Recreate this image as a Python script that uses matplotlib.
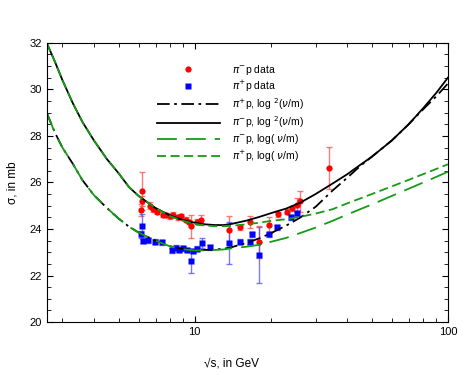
import matplotlib.pyplot as plt
from matplotlib.ticker import LogLocator, NullFormatter, FixedLocator, FixedFormatter, MultipleLocator

plt.rcParams['font.family'] = ['Liberation Sans', 'DejaVu Sans']
plt.rcParams['mathtext.fontset'] = 'dejavusans'

# pi- p data: sqrt(s) [GeV], sigma [mb], error
pim_s = [6.19, 6.2, 6.15, 6.68, 6.84, 7.1, 7.49, 7.73, 7.97, 8.2, 8.59, 8.86,
         9.2, 9.5, 9.7, 10.25, 10.6, 13.7, 15.07, 16.5, 18.0, 19.6, 21.3,
         23.1, 24.3, 25.3, 26.0, 34.0]
pim_sig = [25.63, 25.2, 24.81, 25.0, 24.84, 24.75, 24.62, 24.6, 24.55, 24.62,
           24.5, 24.55, 24.4, 24.3, 24.12, 24.31, 24.38, 23.95, 24.07, 24.29,
           23.45, 24.17, 24.63, 24.74, 24.89, 25.03, 25.2, 26.63]
pim_err = [0.8, 0.2, 0.25, 0.15, 0.1, 0.1, 0.1, 0.1, 0.1, 0.1, 0.1, 0.1,
           0.1, 0.1, 0.5, 0.1, 0.2, 0.6, 0.1, 0.25, 0.7, 0.35, 0.1,
           0.1, 0.1, 0.3, 0.45, 0.9]

# pi+ p data
pip_s = [6.19, 6.15, 6.22, 6.54, 6.94, 7.45, 8.16, 8.4, 8.7, 9.0, 9.3, 9.7,
         9.8, 10.2, 10.7, 11.5, 13.7, 15.07, 16.5, 16.8, 18.0, 19.6, 21.2,
         24.1, 25.3]
pip_sig = [24.15, 23.78, 23.48, 23.52, 23.45, 23.43, 23.08, 23.2, 23.1, 23.17,
           23.1, 22.62, 23.05, 23.15, 23.4, 23.21, 23.4, 23.46, 23.45, 23.77,
           22.9, 23.77, 24.07, 24.5, 24.67]
pip_err = [0.5, 0.15, 0.1, 0.1, 0.1, 0.1, 0.1, 0.1, 0.1, 0.1,
           0.1, 0.5, 0.1, 0.1, 0.2, 0.1, 0.9, 0.1, 0.1, 0.1,
           1.2, 0.1, 0.1, 0.1, 0.1]

# fitted curves
curve_s = [2.6, 2.8, 3.0, 3.3, 3.6, 4, 4.5, 5, 5.5, 6, 7, 8, 9, 10, 11, 12, 13,
           14, 16, 18, 20, 23, 26, 30, 35, 40, 45, 50, 60, 70, 80, 90, 100]
solid_log2 = [32.0, 31.2, 30.4, 29.4, 28.6, 27.8, 27.0, 26.4, 25.8, 25.42, 24.9,
              24.58, 24.38, 24.27, 24.2, 24.17, 24.17, 24.22, 24.36, 24.52, 24.68,
              24.88, 25.12, 25.5, 25.95, 26.35, 26.75, 27.1, 27.8, 28.5, 29.2,
              29.85, 30.5]
dashdot_log2 = [29.0, 28.15, 27.5, 26.8, 26.1, 25.45, 24.9, 24.45, 24.1, 23.85, 23.5,
                23.26, 23.14, 23.1, 23.1, 23.12, 23.15, 23.22, 23.4, 23.6, 23.82,
                24.15, 24.48, 24.95, 25.65, 26.2, 26.7, 27.1, 27.8, 28.5, 29.15,
                29.7, 30.25]
short_log = [32.0, 31.2, 30.4, 29.4, 28.6, 27.8, 27.0, 26.4, 25.8, 25.42, 24.9,
             24.55, 24.35, 24.22, 24.15, 24.12, 24.12, 24.14, 24.2, 24.27, 24.35,
             24.42, 24.52, 24.66, 24.85, 25.1, 25.31, 25.5, 25.83, 26.11, 26.36,
             26.58, 26.78]
long_log = [29.0, 28.15, 27.5, 26.8, 26.1, 25.45, 24.9, 24.45, 24.1, 23.85, 23.5,
            23.25, 23.13, 23.08, 23.08, 23.1, 23.12, 23.17, 23.24, 23.32, 23.45,
            23.62, 23.82, 24.06, 24.35, 24.62, 24.85, 25.05, 25.42, 25.73, 26.0,
            26.24, 26.46]

fig = plt.figure(figsize=(4.71, 3.75), dpi=100)
ax = fig.add_axes([0.099, 0.141, 0.852, 0.745])

ax.errorbar(pim_s, pim_sig, yerr=pim_err, fmt='none', ecolor=(1, 0.3, 0.3, 0.75),
            elinewidth=1, capsize=2)
ax.errorbar(pip_s, pip_sig, yerr=pip_err, fmt='none', ecolor=(0.3, 0.3, 1, 0.75),
            elinewidth=1, capsize=2)
ax.plot(pim_s, pim_sig, 'o', color='red', ms=4.5, mec='none', label=r'$\pi^{-}$p data')
ax.plot(pip_s, pip_sig, 's', color='blue', ms=4, mec='none', label=r'$\pi^{+}$p data')

ax.plot(curve_s, dashdot_log2, color='black', lw=1.3, dashes=(7, 2.5, 1.5, 2.5),
        label=r'$\pi^{+}$p, log $^2$($\nu$/m)')
ax.plot(curve_s, solid_log2, color='black', lw=1.3, label=r'$\pi^{-}$p, log $^2$($\nu$/m)')
ax.plot(curve_s, long_log, color='#169b16', lw=1.3, dashes=(11, 5),
        label=r'$\pi^{-}$p, log( $\nu$/m)')
ax.plot(curve_s, short_log, color='#169b16', lw=1.3, dashes=(5, 2.5),
        label=r'$\pi^{+}$p, log( $\nu$/m)')

ax.set_xscale('log')
ax.set_xlim(2.6, 100)
ax.set_ylim(20, 32)
ax.xaxis.set_major_locator(FixedLocator([10, 100]))
ax.xaxis.set_major_formatter(FixedFormatter(['10', '100']))
ax.xaxis.set_minor_locator(LogLocator(base=10, subs=range(2, 10)))
ax.xaxis.set_minor_formatter(NullFormatter())
ax.yaxis.set_major_locator(MultipleLocator(2))
ax.yaxis.set_minor_locator(MultipleLocator(0.5))
ax.tick_params(which='both', direction='in', top=True, right=True, labelsize=8)
ax.tick_params(which='major', length=4)
ax.tick_params(which='minor', length=3)

ax.set_xlabel('√s, in GeV', fontsize=8.5)
ax.xaxis.set_label_coords(0.46, -0.125)
ax.set_ylabel('σ, in mb', fontsize=8.5)
ax.yaxis.set_label_coords(-0.07, 0.5)

ax.legend(loc='upper left', bbox_to_anchor=(0.257, 0.955), frameon=False, fontsize=7.5,
          handlelength=6, numpoints=1, labelspacing=0.22, handletextpad=1.2,
          borderpad=0.2)

fig.savefig('out.png', dpi=100)
